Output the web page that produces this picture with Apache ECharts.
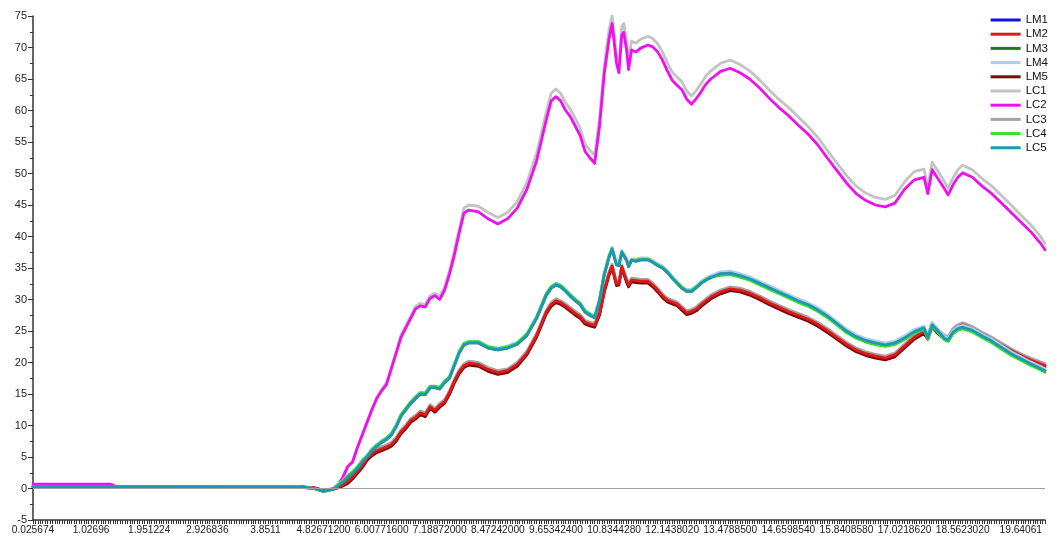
<!DOCTYPE html>
<html>
<head>
<meta charset="utf-8">
<script src="https://cdn.jsdelivr.net/npm/echarts@6/dist/echarts.min.js"></script>
<style>
  html, body { margin: 0; padding: 0; background: #fff; }
  #chart { width: 1062px; height: 540px; }
</style>
</head>
<body>
<div id="chart"></div>
<script>
// Labels printed under the bottom axis, one every `labelEvery` sample steps
const tickLabels = ['0.025674', '1.02696', '1.951224', '2.926836', '3.8511', '4.82671200',
  '6.00771600', '7.18872000', '8.47242000', '9.65342400', '10.8344280', '12.1438020',
  '13.4788500', '14.6598540', '15.8408580', '17.0218620', '18.5623020', '19.64061'];
const labelEvery = 12;
const lastStep = 209;

// Sample positions along the x axis (in sample steps)
const steps = [0, 16, 17, 40, 55, 58, 60, 62,
  63, 64, 65, 66, 67, 68, 69, 70, 71, 72, 73, 74, 75, 76, 77, 78, 79, 80, 81, 82, 83, 84, 85, 86, 87, 88, 89, 90,
  92, 94, 96, 98, 100, 102, 104, 106,
  107, 108, 109, 110, 111, 112, 113, 114, 115, 116, 117, 118, 119,
  119.6, 120.5, 121, 121.6, 122, 122.6, 123, 123.6, 124.5, 125.5, 127,
  128, 129, 130, 131, 132, 133, 134, 135, 136, 137, 138, 139, 140,
  142, 144, 146, 148, 150, 152, 154, 156, 158, 160, 162, 164, 166, 168, 170, 172, 174, 176, 178, 180,
  182, 184, 184.8, 185.7, 186.7, 188.3, 189, 190, 191, 192, 194, 196, 198, 200, 202, 204, 206, 208, 209];

const LM1 = [0.3, 0.3, 0.3, 0.25, 0.25, 0.1, -0.35, -0.1,
  0.2, 0.6, 1.1, 1.8, 2.7, 3.6, 4.8, 5.5, 6.0, 6.3, 6.6, 7.0, 7.8, 9.0, 9.8, 10.8, 11.3, 12.0, 11.7, 13.0, 12.4, 13.2, 13.8, 15.2, 17.0, 18.5, 19.5, 19.9,
  19.7, 18.9, 18.4, 18.7, 19.7, 21.5, 24.3, 28.0,
  29.2, 29.8, 29.5, 29.0, 28.4, 27.8, 27.3, 26.4, 26.1, 25.9, 27.8, 31.5, 34.2,
  35.3, 32.5, 32.6, 35.2, 35.0, 33.0, 32.3, 33.1, 33.0, 32.9, 32.9,
  32.3, 31.5, 30.6, 29.9, 29.6, 29.3, 28.6, 27.9, 28.1, 28.5, 29.2, 29.8, 30.4,
  31.2, 31.7, 31.5, 31.0, 30.3, 29.5, 28.8, 28.1, 27.5, 26.9, 26.1, 25.1, 24.0, 22.9, 22.0, 21.4, 21.0, 20.7, 21.2, 22.6,
  24.0, 24.9, 24.0, 26.0, 25.0, 24.0, 23.8, 25.1, 25.7, 26.0, 25.4, 24.5, 23.7, 22.8, 21.9, 21.1, 20.4, 19.8, 19.5];

const LM2 = [0.3, 0.3, 0.3, 0.25, 0.25, 0.1, -0.35, -0.1,
  0.2, 0.6, 1.1, 1.8, 2.7, 3.6, 4.8, 5.5, 6.0, 6.3, 6.6, 7.0, 7.8, 9.0, 9.8, 10.8, 11.3, 12.0, 11.7, 13.0, 12.4, 13.2, 13.8, 15.2, 17.0, 18.5, 19.5, 19.9,
  19.7, 18.9, 18.4, 18.7, 19.7, 21.5, 24.3, 28.0,
  29.2, 29.8, 29.5, 29.0, 28.4, 27.8, 27.3, 26.4, 26.1, 25.9, 27.8, 31.5, 34.2,
  35.3, 32.5, 32.6, 35.2, 35.0, 33.0, 32.3, 33.1, 33.0, 32.9, 32.9,
  32.3, 31.5, 30.6, 29.9, 29.6, 29.3, 28.6, 27.9, 28.1, 28.5, 29.2, 29.8, 30.4,
  31.2, 31.7, 31.5, 31.0, 30.3, 29.5, 28.8, 28.1, 27.5, 26.9, 26.1, 25.1, 24.0, 22.9, 22.0, 21.4, 21.0, 20.7, 21.2, 22.6,
  24.0, 24.9, 24.0, 26.0, 25.0, 24.0, 23.8, 25.1, 25.7, 26.0, 25.4, 24.5, 23.7, 22.8, 21.9, 21.1, 20.4, 19.8, 19.5];

const LM3 = [0.3, 0.3, 0.3, 0.25, 0.25, 0.0, -0.45, -0.1,
  0.4, 1.0, 1.8, 2.4, 3.2, 4.2, 5.0, 6.0, 6.7, 7.3, 7.8, 8.5, 9.8, 11.5, 12.5, 13.5, 14.3, 15.0, 14.9, 16.0, 16.0, 15.8, 16.8, 17.5, 19.5, 21.5, 22.8, 23.1,
  23.1, 22.3, 22.0, 22.3, 22.9, 24.3, 27.0, 30.7,
  31.8, 32.3, 32.0, 31.3, 30.5, 29.8, 29.2, 28.0, 27.5, 27.1, 29.8, 34.0, 36.8,
  38.0, 35.5, 35.4, 37.5, 37.6, 36.2, 35.2, 36.2, 36.1, 36.3, 36.3,
  35.9, 35.4, 35.0, 34.3, 33.4, 32.6, 31.8, 31.3, 31.3, 31.9, 32.6, 33.1, 33.5,
  34.1, 34.2, 33.8, 33.3, 32.6, 31.9, 31.2, 30.5, 29.8, 29.2, 28.4, 27.4, 26.2, 25.0, 24.1, 23.5, 23.1, 22.8, 23.1, 23.9,
  24.9, 25.5, 24.0, 26.0, 25.2, 23.8, 23.6, 24.8, 25.4, 25.6, 25.1, 24.2, 23.4, 22.4, 21.4, 20.6, 19.8, 19.1, 18.7];

const LM4 = [0.3, 0.3, 0.3, 0.25, 0.25, 0.0, -0.45, -0.1,
  0.7, 1.3, 2.1, 2.7, 3.5, 4.5, 5.3, 6.3, 7.0, 7.6, 8.1, 8.8, 10.1, 11.8, 12.8, 13.8, 14.6, 15.3, 15.2, 16.3, 16.3, 16.1, 17.1, 17.8, 19.8, 21.8, 23.1, 23.4,
  23.4, 22.6, 22.3, 22.6, 23.2, 24.6, 27.3, 31.0,
  32.1, 32.6, 32.3, 31.6, 30.8, 30.1, 29.5, 28.3, 27.8, 27.4, 30.1, 34.3, 37.1,
  38.3, 35.8, 35.7, 37.8, 37.9, 36.5, 35.5, 36.5, 36.4, 36.6, 36.6,
  36.2, 35.7, 35.3, 34.6, 33.7, 32.9, 32.1, 31.6, 31.6, 32.2, 32.9, 33.4, 33.8,
  34.4, 34.5, 34.1, 33.6, 32.9, 32.2, 31.5, 30.8, 30.1, 29.5, 28.7, 27.7, 26.5, 25.3, 24.4, 23.8, 23.4, 23.1, 23.4, 24.2,
  25.2, 25.8, 24.3, 26.3, 25.5, 24.1, 23.9, 25.1, 25.7, 25.9, 25.4, 24.5, 23.7, 22.7, 21.7, 20.9, 20.1, 19.4, 19.0];

const LM5 = [0.3, 0.3, 0.3, 0.25, 0.25, 0.1, -0.35, -0.1,
  0.1, 0.4, 0.8, 1.5, 2.4, 3.3, 4.5, 5.2, 5.7, 6.0, 6.3, 6.7, 7.5, 8.7, 9.5, 10.5, 11.0, 11.7, 11.4, 12.7, 12.1, 12.9, 13.5, 14.9, 16.7, 18.2, 19.2, 19.6,
  19.4, 18.6, 18.1, 18.4, 19.4, 21.2, 24.0, 27.7,
  28.9, 29.5, 29.2, 28.7, 28.1, 27.5, 27.0, 26.1, 25.8, 25.6, 27.5, 31.2, 33.9,
  35.0, 32.2, 32.3, 34.9, 34.7, 32.7, 32.0, 32.8, 32.7, 32.6, 32.6,
  32.0, 31.2, 30.3, 29.6, 29.3, 29.0, 28.3, 27.6, 27.8, 28.2, 28.9, 29.5, 30.1,
  30.9, 31.4, 31.2, 30.7, 30.0, 29.2, 28.5, 27.8, 27.2, 26.6, 25.8, 24.8, 23.7, 22.6, 21.7, 21.1, 20.7, 20.4, 20.9, 22.3,
  23.7, 24.6, 23.7, 25.7, 24.7, 23.7, 23.5, 24.8, 25.4, 25.7, 25.1, 24.2, 23.4, 22.5, 21.6, 20.8, 20.1, 19.5, 19.2];

const LC1 = [0.3, 0.3, 0.3, 0.3, 0.3, 0.1, -0.3, 0.0,
  0.6, 1.8, 3.5, 4.3, 6.6, 8.6, 10.6, 12.7, 14.5, 15.7, 16.8, 19.3, 21.8, 24.4, 25.9, 27.4, 28.9, 29.4, 29.2, 30.6, 31.0, 30.5, 32.0, 34.6, 37.7, 41.2, 44.5, 45.0,
  44.8, 43.8, 43.0, 43.8, 45.5, 48.6, 53.2, 59.7,
  62.7, 63.4, 62.7, 61.2, 60.2, 58.7, 57.2, 54.7, 53.7, 52.9, 58.9, 67.4, 72.9,
  75.0, 68.9, 67.4, 73.3, 73.8, 70.9, 67.9, 71.0, 70.7, 71.3, 71.8,
  71.4, 70.6, 69.3, 67.6, 66.1, 65.3, 64.6, 63.1, 62.3, 63.2, 64.3, 65.5, 66.3,
  67.5, 68.0, 67.3, 66.3, 64.9, 63.3, 61.8, 60.5, 59.0, 57.5, 55.8, 53.7, 51.7, 49.7, 48.0, 46.9, 46.2, 45.9, 46.5, 48.7,
  50.3, 50.7, 47.8, 51.8, 50.6, 48.6, 47.7, 49.3, 50.6, 51.3, 50.6, 49.2, 48.0, 46.5, 45.0, 43.4, 41.9, 40.1, 38.9];

const LC2 = [0.7, 0.7, 0.35, 0.3, 0.3, 0.1, -0.3, 0.0,
  0.6, 1.8, 3.5, 4.2, 6.5, 8.5, 10.5, 12.5, 14.3, 15.5, 16.5, 19.0, 21.5, 24.0, 25.5, 27.0, 28.5, 29.0, 28.8, 30.2, 30.6, 30.0, 31.5, 34.0, 37.0, 40.5, 43.7, 44.2,
  43.9, 42.8, 42.0, 42.8, 44.5, 47.5, 52.0, 58.5,
  61.5, 62.2, 61.5, 60.0, 59.0, 57.5, 56.0, 53.5, 52.5, 51.6, 57.5, 66.0, 71.5,
  73.8, 67.5, 66.0, 72.0, 72.4, 69.5, 66.5, 69.6, 69.3, 69.9, 70.4,
  70.1, 69.3, 68.0, 66.3, 64.8, 64.0, 63.3, 61.8, 61.0, 61.9, 63.0, 64.2, 65.0,
  66.2, 66.7, 66.0, 65.0, 63.6, 62.0, 60.5, 59.2, 57.7, 56.3, 54.6, 52.5, 50.5, 48.5, 46.8, 45.7, 45.0, 44.7, 45.3, 47.5,
  49.0, 49.4, 46.8, 50.6, 49.4, 47.5, 46.6, 48.2, 49.4, 50.1, 49.4, 48.0, 46.8, 45.3, 43.8, 42.3, 40.8, 39.0, 37.9];

const LC3 = [0.3, 0.3, 0.3, 0.25, 0.25, 0.1, -0.35, -0.1,
  0.5, 0.9, 1.4, 2.1, 3.0, 3.9, 5.1, 5.8, 6.3, 6.6, 6.9, 7.3, 8.1, 9.3, 10.1, 11.1, 11.6, 12.3, 12.0, 13.3, 12.7, 13.5, 14.1, 15.5, 17.3, 18.8, 19.8, 20.2,
  20.0, 19.2, 18.7, 19.0, 20.0, 21.8, 24.6, 28.3,
  29.5, 30.1, 29.8, 29.3, 28.7, 28.1, 27.6, 26.7, 26.4, 26.2, 28.1, 31.8, 34.5,
  35.6, 32.8, 32.9, 35.5, 35.3, 33.3, 32.6, 33.4, 33.3, 33.2, 33.2,
  32.6, 31.8, 30.9, 30.2, 29.9, 29.6, 28.9, 28.2, 28.4, 28.8, 29.5, 30.1, 30.7,
  31.5, 32.0, 31.8, 31.3, 30.6, 29.8, 29.1, 28.4, 27.8, 27.2, 26.4, 25.4, 24.3, 23.2, 22.3, 21.7, 21.3, 21.0, 21.5, 22.9,
  24.3, 25.2, 24.3, 26.3, 25.3, 24.3, 24.1, 25.4, 26.0, 26.3, 25.7, 24.8, 24.0, 23.1, 22.2, 21.4, 20.7, 20.1, 19.8];

const LC4 = [0.3, 0.3, 0.3, 0.25, 0.25, 0.0, -0.45, -0.1,
  0.6, 1.2, 2.0, 2.6, 3.4, 4.4, 5.2, 6.2, 6.9, 7.5, 8.0, 8.7, 10.0, 11.7, 12.7, 13.7, 14.5, 15.2, 15.1, 16.2, 16.2, 16.0, 17.0, 17.7, 19.7, 21.7, 23.0, 23.3,
  23.3, 22.5, 22.2, 22.5, 23.1, 24.5, 27.2, 30.9,
  32.0, 32.5, 32.2, 31.5, 30.7, 30.0, 29.4, 28.2, 27.7, 27.3, 30.0, 34.2, 37.0,
  38.1, 35.6, 35.5, 37.6, 37.7, 36.3, 35.3, 36.3, 36.2, 36.4, 36.4,
  36.0, 35.5, 35.1, 34.4, 33.5, 32.7, 31.9, 31.4, 31.4, 32.0, 32.7, 33.2, 33.6,
  33.85, 33.95, 33.55, 33.05, 32.35, 31.65, 30.95, 30.25, 29.55, 28.95, 28.15, 27.15, 25.95, 24.75, 23.85, 23.25, 22.85, 22.55, 22.85, 23.65,
  24.65, 25.25, 23.75, 25.75, 24.95, 23.55, 23.35, 24.55, 25.15, 25.35, 24.85, 23.95, 23.15, 22.15, 21.15, 20.35, 19.55, 18.85, 18.45];

const LC5 = [0.3, 0.3, 0.3, 0.25, 0.25, 0.0, -0.45, -0.1,
  0.4, 1.0, 1.8, 2.4, 3.2, 4.2, 5.0, 6.0, 6.7, 7.3, 7.8, 8.5, 9.8, 11.5, 12.5, 13.5, 14.3, 15.0, 14.9, 16.0, 16.0, 15.8, 16.8, 17.5, 19.5, 21.5, 22.8, 23.1,
  23.1, 22.3, 22.0, 22.3, 22.9, 24.3, 27.0, 30.7,
  31.8, 32.3, 32.0, 31.3, 30.5, 29.8, 29.2, 28.0, 27.5, 27.1, 29.8, 34.0, 36.8,
  38.0, 35.5, 35.4, 37.5, 37.6, 36.2, 35.2, 36.2, 36.1, 36.3, 36.3,
  35.9, 35.4, 35.0, 34.3, 33.4, 32.6, 31.8, 31.3, 31.3, 31.9, 32.6, 33.1, 33.5,
  34.1, 34.2, 33.8, 33.3, 32.6, 31.9, 31.2, 30.5, 29.8, 29.2, 28.4, 27.4, 26.2, 25.0, 24.1, 23.5, 23.1, 22.8, 23.1, 23.9,
  24.9, 25.5, 24.0, 26.0, 25.2, 23.8, 23.6, 24.8, 25.4, 25.6, 25.1, 24.2, 23.4, 22.4, 21.4, 20.6, 19.8, 19.1, 18.7];

const legendOrder = ['LM1', 'LM2', 'LM3', 'LM4', 'LM5', 'LC1', 'LC2', 'LC3', 'LC4', 'LC5'];

// Drawing order: within each bundle the dominant colour is painted last
const seriesDefs = [
  { name: 'LC1', values: LC1, color: '#c3c3c3' },
  { name: 'LC2', values: LC2, color: '#ee10ee' },
  { name: 'LM1', values: LM1, color: '#1010d8' },
  { name: 'LM5', values: LM5, color: '#7a0a0a' },
  { name: 'LC3', values: LC3, color: '#a4a4a4' },
  { name: 'LM2', values: LM2, color: '#e01818' },
  { name: 'LM3', values: LM3, color: '#1a7a22' },
  { name: 'LM4', values: LM4, color: '#b0cdee' },
  { name: 'LC4', values: LC4, color: '#2fe02f' },
  { name: 'LC5', values: LC5, color: '#1e98b0' }
];

const FONT = '"Liberation Sans", Arial, sans-serif';
const AXIS_COLOR = '#333';

const series = seriesDefs.map((d, k) => {
  const s = {
    name: d.name,
    type: 'line',
    symbol: 'none',
    showSymbol: false,
    animation: false,
    emphasis: { disabled: true },
    lineStyle: { width: 2.8, color: d.color, join: 'round', cap: 'round' },
    itemStyle: { color: d.color },
    data: steps.map((x, i) => [x, d.values[i]])
  };
  if (k === 0) {
    s.markLine = {
      silent: true,
      symbol: ['none', 'none'],
      label: { show: false },
      lineStyle: { color: '#a0a0a0', width: 1, type: 'solid' },
      data: [{ yAxis: 0 }]
    };
  }
  return s;
});

const chart = echarts.init(document.getElementById('chart'), null, { renderer: 'canvas' });
chart.setOption({
  animation: false,
  backgroundColor: '#fff',
  grid: { left: 33, right: 17, top: 16, bottom: 20, containLabel: false, outerBoundsMode: 'none' },
  legend: {
    data: legendOrder,
    orient: 'vertical',
    align: 'left',
    right: 14,
    top: 14,
    padding: 0,
    icon: 'rect',
    itemWidth: 30,
    itemHeight: 3,
    itemGap: 2.2,
    textStyle: { fontFamily: FONT, fontSize: 11.5, color: '#111', lineHeight: 12 }
  },
  xAxis: {
    type: 'value',
    min: 0,
    max: lastStep,
    interval: 1,
    axisLine: { show: true, onZero: false, lineStyle: { color: AXIS_COLOR, width: 1.5 } },
    axisTick: { show: true, length: 4, lineStyle: { color: AXIS_COLOR, width: 1 } },
    minorTick: { show: true, splitNumber: 2, length: 4, lineStyle: { color: AXIS_COLOR, width: 1 } },
    splitLine: { show: false },
    axisLabel: {
      fontFamily: FONT,
      fontSize: 10.2,
      color: '#1a1a1a',
      margin: 5,
      formatter: v => (v % labelEvery === 0 ? tickLabels[v / labelEvery] : '')
    }
  },
  yAxis: {
    type: 'value',
    min: -5,
    max: 75,
    interval: 5,
    axisLine: { show: true, lineStyle: { color: AXIS_COLOR, width: 1.5 } },
    axisTick: { show: true, length: 5, lineStyle: { color: AXIS_COLOR } },
    minorTick: { show: true, splitNumber: 2, length: 3, lineStyle: { color: AXIS_COLOR } },
    splitLine: { show: false },
    axisLabel: { fontFamily: FONT, fontSize: 11, color: '#222', margin: 6 }
  },
  series: series
});
</script>
</body>
</html>
